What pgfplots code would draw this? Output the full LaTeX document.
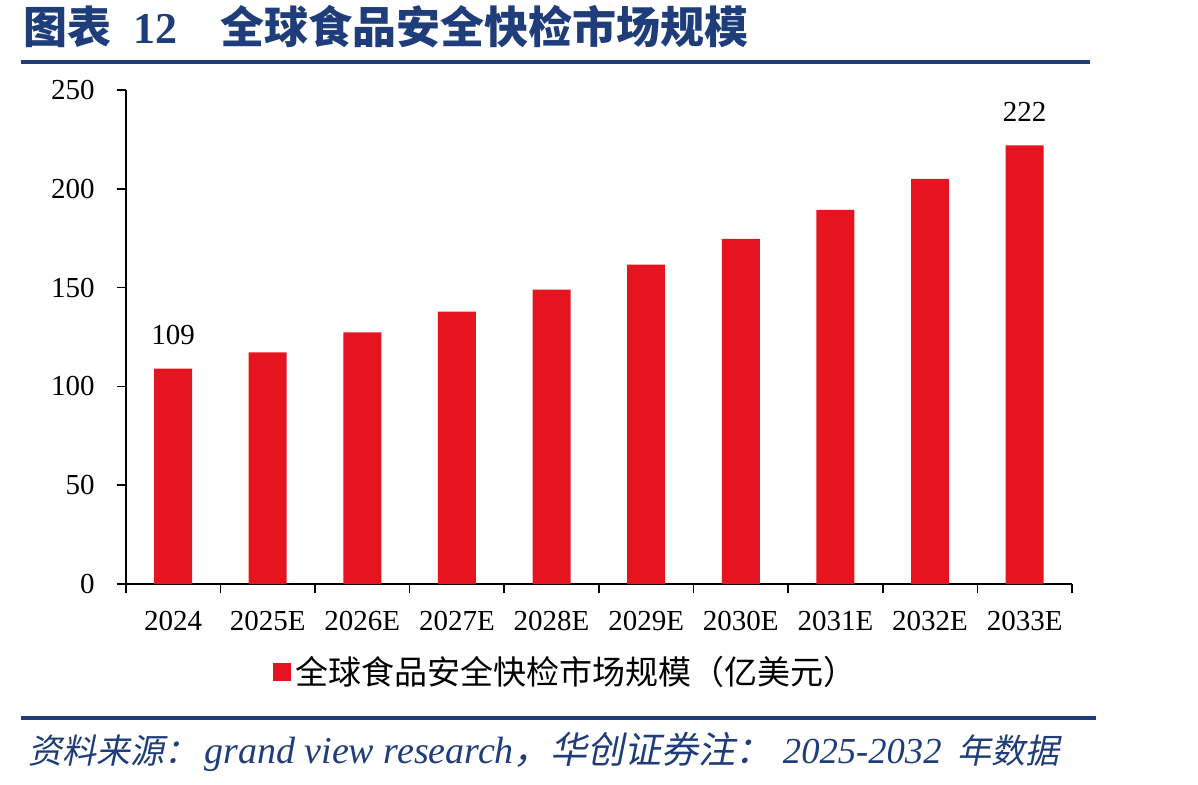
\documentclass[border=0pt]{standalone}
\usepackage{fontspec}
\usepackage{pgfplots}
\pgfplotsset{compat=1.18}
\setmainfont{Liberation Serif}
\newfontfamily\cjk{Noto Sans CJK SC}
\newfontfamily\cjkit[FakeSlant=0.2]{Noto Sans CJK SC}
\definecolor{barred}{RGB}{230,20,30}
\definecolor{hcblue}{RGB}{31,61,122}
\begin{document}
\begin{tikzpicture}
\path[use as bounding box] (0,0) rectangle (599pt,392pt);
% title
\node[anchor=west, text=hcblue, inner sep=0pt, font=\cjk\bfseries\fontsize{22pt}{26pt}\selectfont] at (11.5pt,378.5pt) {图表\hspace{11pt}{\rmfamily\bfseries 12}};
\node[anchor=west, text=hcblue, inner sep=0pt, font=\cjk\bfseries\fontsize{22pt}{26pt}\selectfont] at (110pt,378.5pt) {全球食品安全快检市场规模};
\draw[hcblue, line width=2pt] (10.25pt,361pt) -- (545pt,361pt);
\draw[hcblue, line width=2pt] (10.5pt,33.25pt) -- (548pt,33.25pt);
\node[anchor=west, text=hcblue, inner sep=0pt, font=\fontsize{17pt}{20pt}\selectfont] at (14pt,16pt) {{\cjkit 资料来源：}\hspace{3pt}{\fontsize{19pt}{20pt}\selectfont\itshape grand view research}{\cjkit\fontsize{18.5pt}{20pt}\selectfont ，华创证券注：}\hspace{5pt}{\fontsize{18.3pt}{20pt}\selectfont\itshape 2025-2032}\hspace{8pt}{\cjkit 年数据}};
\begin{axis}[
  at={(62.85pt,100pt)}, anchor=south west,
  scale only axis, width=473.15pt, height=247pt,
  xmin=-0.5, xmax=9.5, ymin=0, ymax=250,
  axis lines*=left,
  axis line style={black, line width=0.8pt},
  ytick={0,50,...,250},
  xtick={0,...,9},
  xticklabels={2024,2025E,2026E,2027E,2028E,2029E,2030E,2031E,2032E,2033E},
  major x tick style={draw=none},
  minor xtick={-0.5,0.5,...,9.5},
  minor x tick style={black, line width=0.8pt},
  major tick length=4.5pt, minor tick length=4.5pt,
  tick align=outside,
  y tick style={black, line width=0.8pt},
  ticklabel style={font=\fontsize{14.5pt}{17pt}\selectfont},
  xticklabel style={yshift=-5.5pt},
  yticklabel style={xshift=-7.5pt},
  /pgf/number format/assume math mode=true,
  clip=false,
  legend style={at={(0.4663,-0.178)}, anchor=center, draw=none, fill=none,
    font=\cjk\fontsize{16.5pt}{19pt}\selectfont},
  legend image code/.code={\fill[barred] (-1.5pt,-4.5pt) rectangle (7.5pt,4.5pt);},
]
\addplot[ybar, bar width=19pt, fill=barred, draw=none] coordinates {
(0,109) (1,117.2) (2,127.3) (3,137.9) (4,149) (5,161.6) (6,174.7) (7,189.4) (8,205) (9,222)};
\addlegendentry{全球食品安全快检市场规模（亿美元）}
\addplot[forget plot, draw=none, mark=none, nodes near coords, point meta=explicit symbolic,
  every node near coord/.append style={anchor=south, yshift=8.5pt, text=black, font=\fontsize{14.5pt}{17pt}\selectfont}]
  coordinates {(0,109) [109] (9,222) [222]};
\end{axis}
\end{tikzpicture}
\end{document}
